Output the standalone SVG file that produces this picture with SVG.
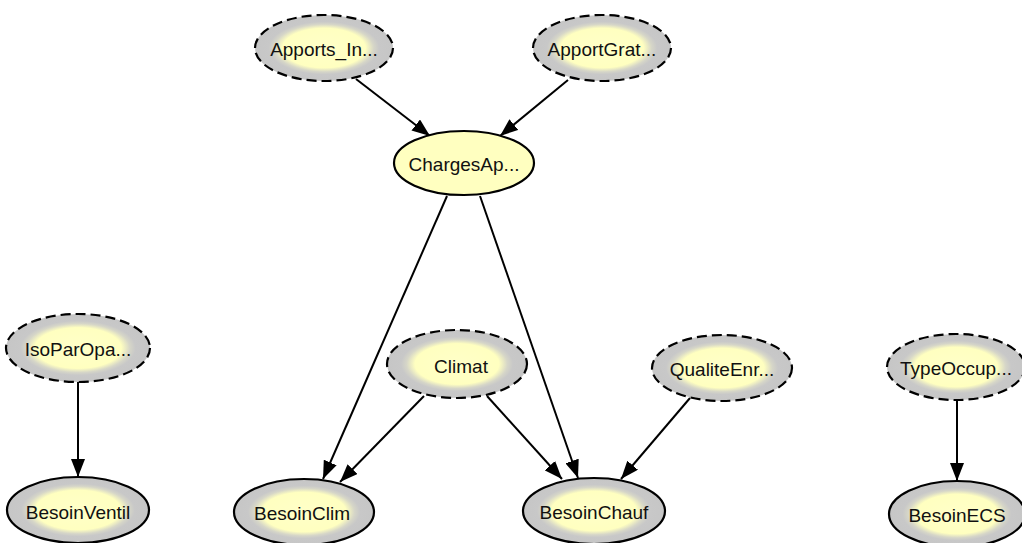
<svg xmlns="http://www.w3.org/2000/svg" width="1022" height="543" viewBox="0 0 1022 543">
<defs>
<radialGradient id="g" cx="50%" cy="50%" r="50%">
<stop offset="0" stop-color="#ffffc8"/>
<stop offset="0.6" stop-color="#ffffc0"/>
<stop offset="0.72" stop-color="#d6d6c8"/>
<stop offset="0.8" stop-color="#c8c8c8"/>
<stop offset="1" stop-color="#c6c6c6"/>
</radialGradient>
<marker id="a" viewBox="0 0 18 14" refX="18" refY="7" markerWidth="18" markerHeight="14" markerUnits="userSpaceOnUse" orient="auto">
<path d="M0,0 L18,7 L0,14 z" fill="#000"/>
</marker>
</defs>
<style>
.n{fill:url(#g);stroke:#000;stroke-width:2.2}
.d{stroke-dasharray:10,5}
.p{fill:#ffffc0;stroke:#000;stroke-width:2.2}
text{font-family:"Liberation Sans",Arial,sans-serif;font-size:19px;fill:#111;text-anchor:middle;dominant-baseline:central}
.e line{stroke:#000;stroke-width:2;marker-end:url(#a)}
</style>
<rect width="1022" height="543" fill="#fff"/>
<g class="e" id="connectors">
<line x1="356" y1="79" x2="430" y2="136"/>
<line x1="568" y1="80" x2="500" y2="136"/>
<line x1="447" y1="196" x2="323" y2="479"/>
<line x1="480" y1="196" x2="578" y2="478"/>
<line x1="424" y1="396" x2="340" y2="482"/>
<line x1="487" y1="396" x2="562" y2="479"/>
<line x1="690" y1="398" x2="621" y2="479"/>
<line x1="78" y1="382" x2="78" y2="477"/>
<line x1="957" y1="400" x2="957" y2="481"/>
</g>
<g id="Apports_In"><ellipse class="n d" cx="324" cy="48" rx="69" ry="33"/><text x="324" y="49">Apports_In...</text></g>
<g id="ApportGrat"><ellipse class="n d" cx="602" cy="48" rx="69" ry="33"/><text x="602" y="49">ApportGrat...</text></g>
<g id="ChargesAp"><ellipse class="p" cx="464" cy="163" rx="70" ry="32"/><text x="464" y="164">ChargesAp...</text></g>
<g id="IsoParOpa"><ellipse class="n d" cx="78" cy="348" rx="72" ry="34"/><text x="78" y="349">IsoParOpa...</text></g>
<g id="Climat"><ellipse class="n d" cx="457" cy="364" rx="70" ry="34"/><text x="461" y="366">Climat</text></g>
<g id="QualiteEnr"><ellipse class="n d" cx="722" cy="368" rx="70" ry="33"/><text x="722" y="369">QualiteEnr...</text></g>
<g id="TypeOccup"><ellipse class="n d" cx="956" cy="367" rx="69" ry="33"/><text x="956" y="368">TypeOccup...</text></g>
<g id="BesoinVentil"><ellipse class="n" cx="78" cy="510" rx="71" ry="33"/><text x="78" y="512">BesoinVentil</text></g>
<g id="BesoinClim"><ellipse class="n" cx="304" cy="512" rx="70" ry="33"/><text x="302" y="513">BesoinClim</text></g>
<g id="BesoinChauf"><ellipse class="n" cx="594" cy="511" rx="71" ry="33"/><text x="594" y="512">BesoinChauf</text></g>
<g id="BesoinECS"><ellipse class="n" cx="957" cy="514" rx="68" ry="33"/><text x="957" y="515">BesoinECS</text></g>
</svg>
